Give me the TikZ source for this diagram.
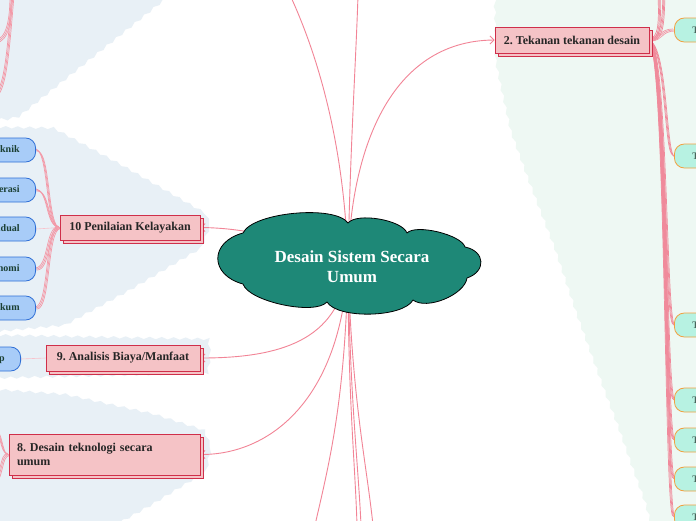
\documentclass[tikz,border=0pt]{standalone}
\usepackage{fontspec}
\setmainfont{Liberation Serif}
\usetikzlibrary{arrows.meta,decorations.pathmorphing,shadows,calc}
\definecolor{lnk}{HTML}{F28496}
\definecolor{strd}{HTML}{F39AA8}
\definecolor{trunk}{HTML}{F08A9B}
\definecolor{boxf}{HTML}{F5C3C6}
\definecolor{boxd}{HTML}{CF2F4A}
\definecolor{bluef}{HTML}{A8CCF8}
\definecolor{blued}{HTML}{2F6FD6}
\definecolor{mintf}{HTML}{B7F2E2}
\definecolor{mintd}{HTML}{F2A040}
\definecolor{regb}{HTML}{E8F0F6}
\definecolor{regm}{HTML}{EEF8F3}
\definecolor{cloudf}{HTML}{1E8877}
\definecolor{subtxt}{HTML}{1B3F33}
\pgfdeclarelayer{bg}
\pgfsetlayers{bg,main}
\newcommand\tri[5][strd]{%
  \foreach \dd in {-1,0,1}{%
    \draw[#1,line width=0.7pt] ($#2+(\dd,\dd)$) .. controls ($#3+(\dd,\dd)$) and ($#4+(\dd,\dd)$) .. ($#5+(\dd,\dd)$);}}
\tikzset{
  mainbox/.style={draw=boxd, fill=boxf, line width=0.8pt, inner sep=0pt,
    font=\frenchspacing\bfseries\fontsize{12}{14}\selectfont, text=black!85,
    copy shadow={shadow xshift=3pt, shadow yshift=-3pt}},
  bluenode/.style={draw=blued, fill=bluef, line width=0.8pt, rounded corners=10pt,
    minimum height=24pt, text width=110pt, align=right, inner xsep=16pt,
    font=\bfseries\fontsize{10}{12}\selectfont, text=subtxt, anchor=east},
  mintnode/.style={draw=mintd, fill=mintf, line width=0.8pt, rounded corners=10pt,
    minimum height=24pt, text width=110pt, align=left, inner xsep=18pt,
    font=\bfseries\fontsize{10}{12}\selectfont, text=subtxt!80, anchor=west},
  link/.style={draw=lnk, line width=0.9pt, -{Straight Barb[length=4pt,width=8pt]}},
  linkfree/.style={draw=lnk, line width=0.9pt},
  region/.style={decorate, decoration={snake, amplitude=1.2pt, segment length=12pt}},
  puff/.style={bend left=60, looseness=#1},
}
\begin{document}
\begin{tikzpicture}[x=1pt,y=-1pt]
\useasboundingbox (0,0) rectangle (696,520);
% ---------- background regions ----------
\begin{pgfonlayer}{bg}
\fill[white] (0,0) rectangle (696,520);
\fill[regb, region] (-10,-10) -- (162,-10) -- (160,0) -- (13,118) -- (0,121) -- (-10,121) -- cycle;
\fill[regb, region] (-10,127) -- (50,128) -- (120,166) -- (200,212) -- (207,228) -- (198,250) -- (130,290) -- (65,325) -- (-10,332) -- cycle;
\fill[regb, region] (-10,335) -- (205,339) -- (207,360) -- (204,379) -- (-10,384) -- cycle;
\fill[regb, region] (-10,389) -- (60,394) -- (150,414) -- (200,430) -- (208,450) -- (204,472) -- (150,505) -- (105,530) -- (-10,530) -- cycle;
\fill[regm, region] (499,-10) -- (706,-10) -- (706,530) -- (657,530) -- (650,503) -- (637,467) -- (623,427) -- (610,393) -- (598,360) -- (580,310) -- (560,250) -- (535,185) -- (515,130) -- (505,85) -- (500,60) -- cycle;
\end{pgfonlayer}
% ---------- central cloud ----------
\coordinate (cc) at (348,266);
\filldraw[fill=cloudf, draw=black, line width=0.8pt, line join=round]
  (243,233) to[puff=0.55] (348,223) to[puff=0.6] (407,233) to[puff=0.55] (465,247)
  to[bend left=75, looseness=1.7] (467,278) to[puff=0.75] (413,300) to[puff=0.6] (327,302)
  to[puff=0.55] (243,284) to[bend left=75, looseness=1.75] (243,233) -- cycle;
\node[text=white, font=\bfseries\fontsize{17}{20}\selectfont, align=center] (cl) at (352,267) {Desain Sistem Secara\\Umum};
% ---------- nodes ----------
\node[mainbox, minimum width=154pt, minimum height=26pt] (b2) at (572,40) {2. Tekanan tekanan desain};
\node[mainbox, minimum width=140pt, minimum height=25pt] (b10) at (130,227.5) {10 Penilaian Kelayakan};
\node[mainbox, minimum width=154pt, minimum height=26pt] (b9) at (123,358) {9. Analisis Biaya/Manfaat};
\node[mainbox, minimum width=191pt, minimum height=41pt, text width=175pt, align=left] (b8) at (104.5,454.5) {8. Desain teknologi secara\\umum};
% left sub nodes
\node[bluenode] (k1) at (36,150) {Kelayakan Teknik};
\node[bluenode] (k2) at (36,190) {Kelayakan Operasi};
\node[bluenode] (k3) at (36,229) {Kelayakan Jadual};
\node[bluenode] (k4) at (36,269) {Kelayakan Ekonomi};
\node[bluenode] (k5) at (36,308) {Kelayakan Hukum};
\node[bluenode] (s9) at (21,359) {Analisis siklus hidup};
% right sub nodes
\node[mintnode] (m1) at (674,30) {Tekanan};
\node[mintnode] (m2) at (674,156) {Tekanan};
\node[mintnode] (m3) at (674,325) {Tekanan};
\node[mintnode] (m4) at (674,400) {Tekanan};
\node[mintnode] (m5) at (674,440) {Tekanan};
\node[mintnode] (m6) at (674,479) {Tekanan};
\node[mintnode] (m7) at (674,517) {Tekanan};
\coordinate (t1) at (290,-5);
\coordinate (t2) at (358,-5);
\coordinate (u1) at (315,525);
\coordinate (u2) at (357,525);
\coordinate (u3) at (361,525);
\coordinate (u4) at (373,525);
\coordinate (r1) at (659,-5);
\coordinate (r2) at (664,-5);
\coordinate (l1) at (-5,42);
\coordinate (l2) at (-5,95);
\coordinate (l1s) at (11,-5);
\coordinate (l2s) at (13,-5);
\coordinate (e1) at (-8,425);
\coordinate (e2) at (-8,485);
% ---------- connectors ----------
\begin{pgfonlayer}{bg}
% strands right
\tri[trunk]{(b2.east)}{(660,40)}{(660,22)}{(r1)}
\tri[trunk]{(b2.east)}{(663,40)}{(663,22)}{(r2)}
\tri{(b2.east)}{(662,40)}{(660,30)}{(m1.west)}
\foreach \m/\yy in {m2/156,m3/325,m4/400,m5/440,m6/479,m7/517}{
  \tri[trunk]{(b2.east)}{(667,50)}{(665,\yy)}{(\m.west)}
}
% strands left (10)
\tri{(b10.west)}{(46,227.5)}{(50,150)}{(k1.east)}
\tri{(b10.west)}{(46,227.5)}{(50,190)}{(k2.east)}
\draw[strd!60, line width=0.6pt] (b10.west) -- (k3.east);
\tri{(b10.west)}{(46,227.5)}{(50,269)}{(k4.east)}
\tri{(b10.west)}{(46,227.5)}{(50,308)}{(k5.east)}
\draw[strd!60, line width=0.6pt] (b9.west) -- (s9.east);
% strands left (8) and top-left
\tri{(b8.west)}{(0,454.5)}{(3,430)}{(e1)}
\tri{(b8.west)}{(0,454.5)}{(3,480)}{(e2)}
\tri{(l1s)}{(11,20)}{(8,40)}{(l1)}
\tri{(l2s)}{(9,40)}{(6,92)}{(l2)}
% central links
\draw[link] (cc) .. controls (350,150) and (390,41) .. (b2.west);
\draw[link] (cc) .. controls (290,236) and (240,228) .. (b10.east);
\draw[link] (cc) .. controls (340,335) and (290,358) .. (b9.east);
\draw[link] (cc) .. controls (340,400) and (270,454.5) .. (b8.east);
\draw[linkfree] (cc) .. controls (345,150) and (320,60) .. (t1);
\draw[linkfree] (cc) .. controls (350,150) and (356,60) .. (t2);
\draw[linkfree] (cc) .. controls (345,400) and (330,460) .. (u1);
\draw[linkfree] (cc) .. controls (348,400) and (355,460) .. (u2);
\draw[linkfree] (cc) .. controls (350,400) and (358,460) .. (u3);
\draw[linkfree] (cc) .. controls (352,400) and (366,460) .. (u4);
\end{pgfonlayer}
\end{tikzpicture}
\end{document}
